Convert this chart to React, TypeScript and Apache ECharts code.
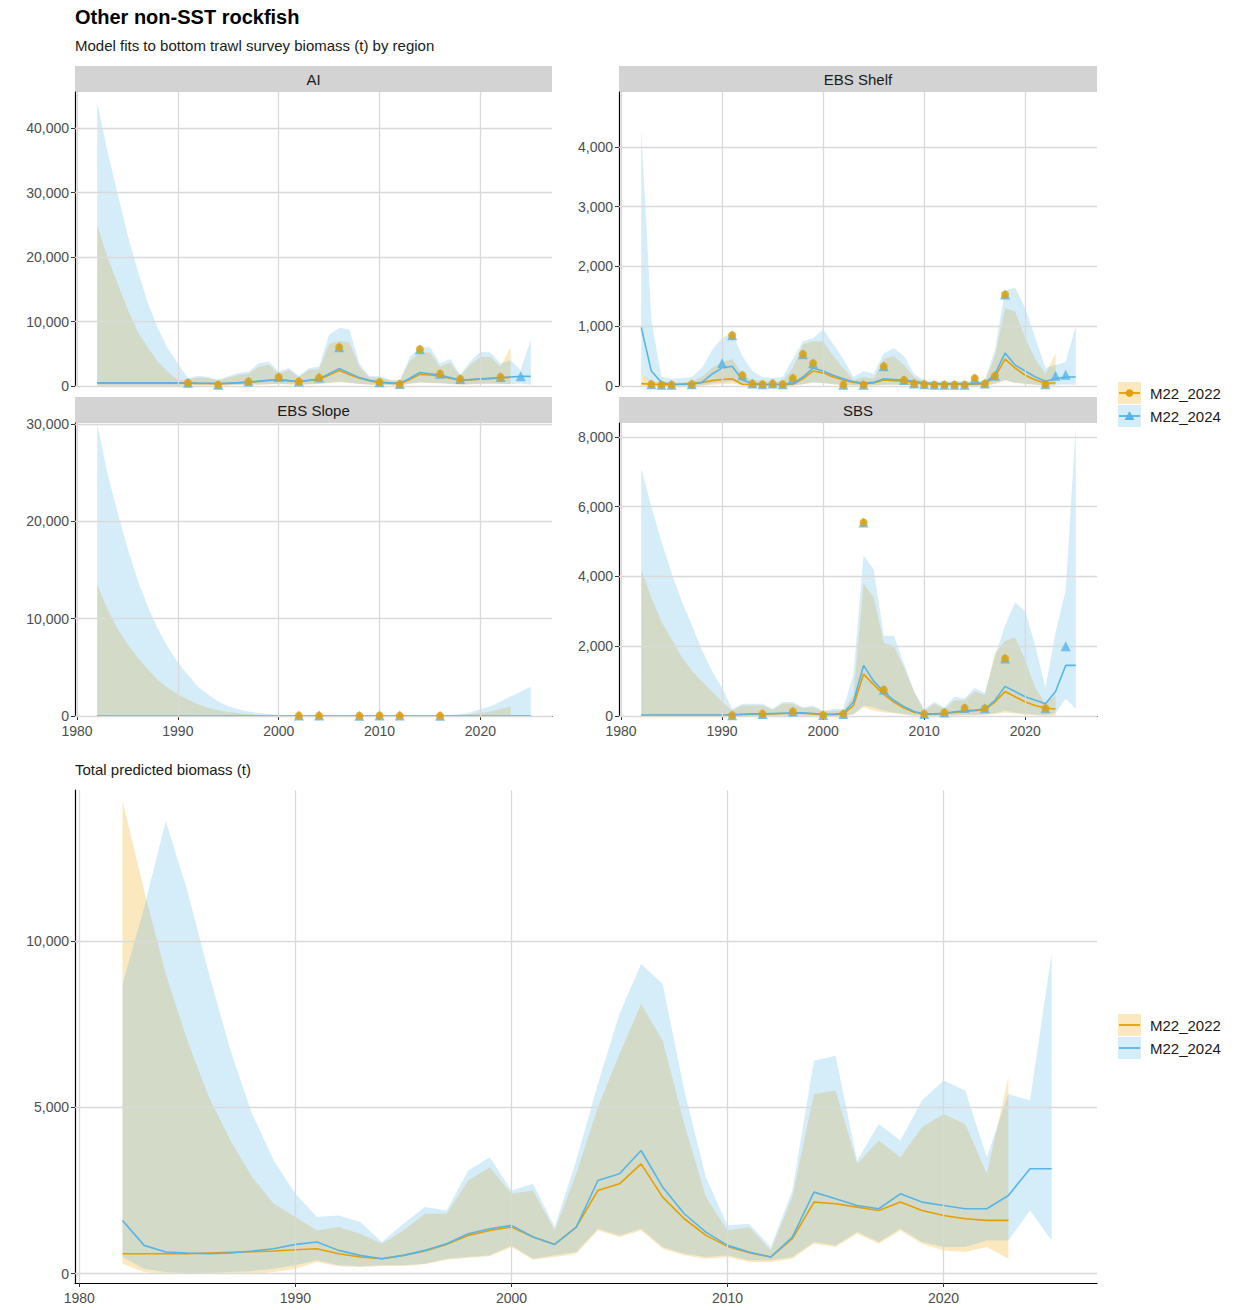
import React, { useEffect, useRef } from "react";
import * as echarts from "echarts";

const YEARS24 = [1982,1983,1984,1985,1986,1987,1988,1989,1990,1991,1992,1993,1994,1995,1996,1997,1998,1999,2000,2001,2002,2003,2004,2005,2006,2007,2008,2009,2010,2011,2012,2013,2014,2015,2016,2017,2018,2019,2020,2021,2022,2023,2024,2025];
const YEARS22 = YEARS24.slice(0, 42);

// AI
const aiPred24 = [500,500,500,500,500,500,500,500,500, 500,450,420,400,450,520,600,750,900,1000, 850,700,900,1100,1900,2700,2000,1300,900,600, 500,400,1200,2100,1900,1700,1300,900,1000,1100, 1200,1300,1400,1500,1500];
const aiPred22 = [450,450,450,450,450,450,450,450,450, 450,400,380,360,400,480,560,700,850,950, 800,650,850,1000,1700,2400,1800,1200,800,550, 450,350,1000,1800,1700,1500,1200,850,950,1050, 1150,1250,1350];
const aiUp24 = [44000,36500,30000,23500,18000,13000,9000,5800,3500,1200, 1600,1400,1000,1500,2000,2200,3500,3800,2200,2800, 1600,2800,3000,8000,9000,8800,3500,1500,1500,1000, 800,4500,6000,6000,3500,4200,1800,3800,5300,5200, 3500,4000,2500,7200];
const aiUp22 = [25000,20000,16000,12000,8500,6000,3800,2200,900,1000, 1300,1200,800,1300,1700,1900,3000,3300,1900,2500, 1400,2500,2600,6500,7000,6800,3000,1300,1300,900, 700,3900,5200,5200,3000,3600,1500,3300,4500,4500, 3000,6000];
const aiLo24 = [50,50,50,50,50,50,50,50,50, 100,100,100,100,150, 200,250,250,300,350, 300,250,300,350,500, 700,500,350,250,200, 150,100,400,600,500, 450,350,250,300,350, 400,350,300,400,200];
const aiLo22 = [20,20,20,20,20,20,20,20,20, 60,60,60,60,100, 150,200,200,250,300, 250,200,250,300,450, 600,450,300,200,150, 100,80,350,500,450, 400,300,200,250,300, 350,300,250];
const aiObs = [[1991,500],[1994,200],[1997,700],[2000,1400],[2002,700],[2004,1300],[2006,6000],[2010,600],[2012,300],[2014,5700],[2016,1900],[2018,1100],[2022,1400]];
const aiObs24Extra = [[2024,1500]];

// EBS Shelf
const shPred24 = [980,250,60,30,30,30,60,200,300,330, 100,40,30,30,30,40,150,300,250,180, 120,70,50,60,120,110,100,80,50,40, 40,40,40,40,50,200,550,350,250,150, 80,120,150,150];
const shPred22 = [40,30,20,20,30,40,60,90,110,120, 30,20,20,20,20,30,120,250,220,150, 100,60,40,50,100,90,80,60,40,30, 30,30,30,30,40,150,450,300,180,100, 50,50];
const shUp24 = [4300,1100,150,120,130,150,300,600,800,900, 500,250,150,130,150,450,750,800,950,700, 450,150,250,200,550,630,500,200,100,80, 80,80,80,80,100,600,1600,1650,1300,800, 300,350,400,1000];
const shUp22 = [200,80,50,50,60,80,150,300,400,450, 200,100,80,70,80,300,700,750,750,500, 300,100,150,120,450,500,350,150,70,50, 50,50,50,50,70,500,1300,1250,800,450, 200,550];
const shLo24 = [200,50,10,5,5,5,10,40,60,80, 20,10,5,5,5,10,30,60,50,30, 20,10,10,10,20,20,20,15,10,5, 5,5,5,5,10,40,100,60,40,20, 10,20,30,20];
const shLo22 = [0,0,0,0,0,0,5,20,30,40, 5,0,0,0,0,5,30,60,50,30, 20,10,5,10,20,20,20,10,5,0, 0,0,0,0,5,30,90,50,30,20, 10,5];
const shObs = [[1983,30],[1984,20],[1985,20],[1987,30],[1991,850],[1992,180],[1993,40],[1994,30],[1995,40],[1996,30],[1997,130],[1998,530],[1999,380],[2002,20],[2004,20],[2006,330],[2008,100],[2009,40],[2010,30],[2011,20],[2012,20],[2013,20],[2014,20],[2015,130],[2016,40],[2017,170],[2018,1530],[2022,30]];
const shObs24Extra = [[1990,380],[2023,170],[2024,190]];

// EBS Slope
const slPred24 = [20,20,20,20,20,20,20,20,20,20, 20,20,20,20,20,20,20,20,20,20, 20,20,20,20,20,20,20,20,20,20, 20,20,20,20,20,20,20,20,20,20, 20,20,20,20];
const slPred22 = [10,10,10,10,10,10,10,10,10,10, 10,10,10,10,10,10,10,10,10,10, 10,10,10,10,10,10,10,10,10,10, 10,10,10,10,10,10,10,10,10,10, 10,10];
const slUp24 = [30000,25000,21000,17300,14000,11300,9000,7100,5500,4200, 3000,2200,1500,1000,700,450,300,200,100,60, 40,30,20,20,20,20,20,20,20,20, 20,20,20,30,50,100,200,350,700,1000, 1500,2000,2500,3000];
const slUp22 = [13500,11000,9000,7400,6000,4800,3700,2900,2200,1700, 1200,850,600,420,300,180,100,60,40,20, 15,10,10,10,10,10,10,10,10,10, 10,10,10,15,30,60,100,180,300,450, 700,1000];
const slLo24 = [0,0,0,0,0,0,0,0,0,0, 0,0,0,0,0,0,0,0,0,0, 0,0,0,0,0,0,0,0,0,0, 0,0,0,0,0,0,0,0,0,0, 0,0,0,0];
const slLo22 = [0,0,0,0,0,0,0,0,0,0, 0,0,0,0,0,0,0,0,0,0, 0,0,0,0,0,0,0,0,0,0, 0,0,0,0,0,0,0,0,0,0, 0,0];
const slObs = [[2002,40],[2004,40],[2008,30],[2010,50],[2012,40],[2016,30]];

// SBS
const sbPred24 = [30,30,30,30,30,30,30,30,30,40, 50,60,60,70,80,90,90,70,50,50, 80,400,1450,1000,700,450,270,130,60,60, 80,120,150,170,200,450,850,700,550,450, 350,700,1450,1450];
const sbPred22 = [20,20,20,20,20,20,20,20,20,30, 40,50,50,60,70,80,80,60,40,40, 60,300,1200,900,620,400,230,110,50,50, 70,100,130,150,180,400,700,550,400,300, 220,200];
const sbUp24 = [7100,6000,5000,4100,3300,2600,1900,1300,800,200, 350,350,350,200,400,400,250,300,150,200, 200,1200,4600,4200,2300,2300,1500,700,200,400, 250,550,500,800,650,1700,2600,3250,3000,2000, 800,2400,3600,8300];
const sbUp22 = [4200,3400,2700,2200,1700,1300,1000,700,400,150, 300,300,300,180,350,350,220,250,120,150, 150,600,3800,3400,2100,2000,1400,700,150,350, 200,450,450,700,600,1800,2150,2250,1600,800, 350,600];
const sbLo24 = [0,0,0,0,0,0,0,0,0,5, 10,10,10,10,10,10,10,10,5,5, 10,50,300,250,150,100,50,20,5,5, 10,20,30,30,40,80,150,100,60,40, 20,80,500,200];
const sbLo22 = [0,0,0,0,0,0,0,0,0,0, 5,5,5,5,5,5,5,5,0,0, 5,40,250,150,100,80,40,10,0,0, 5,10,20,20,30,60,100,70,40,20, 10,10];
const sbObs = [[1991,20],[1994,60],[1997,130],[2000,30],[2002,60],[2004,5550],[2006,750],[2010,60],[2012,100],[2014,230],[2016,220],[2018,1650],[2022,220]];
const sbObs24Extra = [[2024,2000]];

// Total
const totPred24 = [1600,850,650,620,600,620,680,750,880,950, 700,550,450,550,700,900,1200,1350,1450,1100, 880,1400,2800,3000,3700,2600,1800,1250,850,650, 500,1100,2450,2250,2050,1950,2400,2150,2050,1950, 1950,2350,3150,3150];
const totPred22 = [600,600,600,600,620,640,660,680,720,750, 600,500,450,550,680,880,1150,1300,1400,1100, 880,1400,2500,2700,3300,2300,1650,1150,820,630, 500,1050,2150,2100,2000,1900,2150,1900,1750,1650, 1600,1600];
const totUp24 = [8700,11000,13600,11500,9000,6700,4800,3400,2400,1700, 1750,1550,950,1500,2000,1900,3100,3500,2500,2700, 1400,3400,5700,7800,9300,8700,5500,2900,1450,1500, 800,2500,6400,6550,3400,4500,4000,5200,5800,5500, 3500,5400,5200,9600];
const totUp22 = [14200,11500,9000,7000,5300,4000,2900,2100,1700,1300, 1400,1200,900,1300,1800,1800,2800,3200,2400,2500, 1300,3000,5000,6600,8100,7000,4500,2300,1300,1400, 700,2300,5400,5500,3300,4000,3500,4400,4800,4500, 3000,5900];
const totLo24 = [500,150,50,20,30,50,80,150,250,400, 250,220,250,250,300,450,500,550,850,450, 550,650,1350,1150,1350,800,600,500,550,400, 400,500,950,850,1250,950,1350,950,800,800, 1000,1000,1900,1000];
const totLo22 = [300,50,0,0,0,0,0,50,150,350, 220,200,230,230,280,420,480,520,800,420, 500,600,1300,1100,1300,750,550,450,500,350, 350,450,900,800,1200,900,1300,900,700,650, 800,450];

const X_TICKS = [1980, 1990, 2000, 2010, 2020];
const ORANGE = "#E69F00";
const BLUE = "#56B4E9";
const BAND22 = "rgba(247,190,70,0.35)";
const BAND24 = "rgba(86,180,233,0.25)";
const FONT = "Liberation Sans, Arial, sans-serif";

const PANELS = [
  { name: "AI", left: 75, top: 92, width: 477, height: 294, ymax: 45600, yticks: [0,10000,20000,30000,40000], xlab: false,
    p24: aiPred24, p22: aiPred22, u24: aiUp24, u22: aiUp22, l24: aiLo24, l22: aiLo22, obs: aiObs, extra: aiObs24Extra },
  { name: "EBS Shelf", left: 619, top: 92, width: 478, height: 294, ymax: 4920, yticks: [0,1000,2000,3000,4000], xlab: false,
    p24: shPred24, p22: shPred22, u24: shUp24, u22: shUp22, l24: shLo24, l22: shLo22, obs: shObs, extra: shObs24Extra },
  { name: "EBS Slope", left: 75, top: 423, width: 477, height: 293, ymax: 30100, yticks: [0,10000,20000,30000], xlab: true,
    p24: slPred24, p22: slPred22, u24: slUp24, u22: slUp22, l24: slLo24, l22: slLo22, obs: slObs, extra: [] },
  { name: "SBS", left: 619, top: 423, width: 478, height: 293, ymax: 8400, yticks: [0,2000,4000,6000,8000], xlab: true,
    p24: sbPred24, p22: sbPred22, u24: sbUp24, u22: sbUp22, l24: sbLo24, l22: sbLo22, obs: sbObs, extra: sbObs24Extra },
  { name: "", left: 75, top: 790, width: 1022, height: 493, ymin: -280, ymax: 14530, yticks: [0,5000,10000], xlab: true,
    p24: totPred24, p22: totPred22, u24: totUp24, u22: totUp22, l24: totLo24, l22: totLo22, obs: [], extra: [] },
];

function band(gi: number, years: number[], lo: number[], up: number[], color: string, z: number) {
  return {
    type: "custom", xAxisIndex: gi, yAxisIndex: gi, z, clip: true, silent: true,
    data: [[years[0], lo[0]]],
    renderItem: (params: any, api: any) => {
      const pts: number[][] = [];
      for (let i = 0; i < years.length; i++) pts.push(api.coord([years[i], up[i]]));
      for (let i = years.length - 1; i >= 0; i--) pts.push(api.coord([years[i], lo[i]]));
      return { type: "polygon", shape: { points: pts }, style: { fill: color } };
    },
  };
}

export default function App() {
  const ref = useRef<HTMLDivElement>(null);
  useEffect(() => {
    const chart = echarts.init(ref.current!, undefined, { renderer: "svg" });
    const grids: any[] = [], xAxes: any[] = [], yAxes: any[] = [], series: any[] = [];
    PANELS.forEach((p, gi) => {
      grids.push({ left: p.left, top: p.top, width: p.width, height: p.height, containLabel: false });
      xAxes.push({
        type: "value", gridIndex: gi, min: 1979.8, max: 2027.1,
        splitLine: { show: false },
        axisLine: { show: p.xlab, onZero: false, lineStyle: { color: "#000", width: 1.2 } },
        axisTick: { show: p.xlab, customValues: X_TICKS, length: 4, lineStyle: { color: "#333" } },
        axisLabel: { show: p.xlab, customValues: X_TICKS, color: "#4d4d4d", fontSize: 14, fontFamily: FONT, margin: 8, formatter: (v: number) => String(v) },
      });
      yAxes.push({
        type: "value", gridIndex: gi, min: (p as any).ymin ?? 0, max: p.ymax,
        splitLine: { show: false },
        axisLine: { show: true, onZero: false, lineStyle: { color: "#000", width: 1.2 } },
        axisTick: { show: true, customValues: p.yticks, length: 4, lineStyle: { color: "#333" } },
        axisLabel: { customValues: p.yticks, color: "#4d4d4d", fontSize: 14, fontFamily: FONT, margin: 6, formatter: (v: number) => v.toLocaleString("en-US") },
      });
      series.push({
        type: "scatter", xAxisIndex: gi, yAxisIndex: gi, z: 0, symbolSize: 0, silent: true, data: [[2000, 0]],
        markLine: {
          silent: true, symbol: ["none", "none"], label: { show: false }, animation: false,
          lineStyle: { color: "#d9d9d9", type: "solid", width: 1.3 },
          data: [...X_TICKS.map((x) => ({ xAxis: x })), ...p.yticks.map((y) => ({ yAxis: y }))],
        },
      });
      series.push(band(gi, YEARS22, p.l22, p.u22, BAND22, 1));
      series.push(band(gi, YEARS24, p.l24, p.u24, BAND24, 2));
      series.push({ type: "line", xAxisIndex: gi, yAxisIndex: gi, z: 3, symbol: "none", lineStyle: { color: ORANGE, width: 1.6 }, data: YEARS22.map((y, i) => [y, p.p22[i]]) });
      series.push({ type: "line", xAxisIndex: gi, yAxisIndex: gi, z: 4, symbol: "none", lineStyle: { color: BLUE, width: 1.6 }, data: YEARS24.map((y, i) => [y, p.p24[i]]) });
      if (p.obs.length || p.extra.length) {
        series.push({ type: "scatter", xAxisIndex: gi, yAxisIndex: gi, z: 5, symbol: "triangle", symbolSize: 10, itemStyle: { color: BLUE }, data: [...p.obs, ...p.extra] });
        series.push({ type: "scatter", xAxisIndex: gi, yAxisIndex: gi, z: 6, symbol: "circle", symbolSize: 8, itemStyle: { color: ORANGE }, data: p.obs });
      }
    });

    const strips: any[] = [];
    PANELS.slice(0, 4).forEach((p) => {
      strips.push({ type: "rect", shape: { x: p.left, y: p.top - 26, width: p.width, height: 26 }, style: { fill: "#d3d3d3" } });
      strips.push({ type: "text", x: p.left + p.width / 2, y: p.top - 13, style: { text: p.name, fill: "#1a1a1a", fontSize: 15, fontFamily: FONT, align: "center", verticalAlign: "middle" } });
    });
    const legend = (y: number, withPts: boolean) => {
      const items: any[] = [];
      [[BAND22, ORANGE, "M22_2022", "circle"], [BAND24, BLUE, "M22_2024", "triangle"]].forEach(([bg, c, label, sym], k) => {
        const cy = y + k * 23;
        items.push({ type: "rect", shape: { x: 1118, y: cy - 11, width: 23, height: 22 }, style: { fill: bg } });
        items.push({ type: "line", shape: { x1: 1119, y1: cy, x2: 1140, y2: cy }, style: { stroke: c, lineWidth: 1.8 } });
        if (withPts) {
          if (sym === "circle") items.push({ type: "circle", shape: { cx: 1129.5, cy, r: 3.8 }, style: { fill: c } });
          else items.push({ type: "polygon", shape: { points: [[1129.5, cy - 5], [1134.5, cy + 4], [1124.5, cy + 4]] }, style: { fill: c } });
        }
        items.push({ type: "text", x: 1150, y: cy, style: { text: label, fill: "#1a1a1a", fontSize: 15, fontFamily: FONT, verticalAlign: "middle" } });
      });
      return items;
    };

    chart.setOption({
      animation: false,
      backgroundColor: "#fff",
      title: [
        { text: "Other non-SST rockfish", left: 70, top: 2, textStyle: { fontSize: 20, fontWeight: "bold", color: "#000", fontFamily: FONT } },
        { text: "Model fits to bottom trawl survey biomass (t) by region", left: 70, top: 33, textStyle: { fontSize: 15, fontWeight: "normal", color: "#1a1a1a", fontFamily: FONT } },
        { text: "Total predicted biomass (t)", left: 70, top: 757, textStyle: { fontSize: 15, fontWeight: "normal", color: "#1a1a1a", fontFamily: FONT } },
      ],
      grid: grids, xAxis: xAxes, yAxis: yAxes, series,
      graphic: [...strips, ...legend(393, true), ...legend(1025, false)],
    });
    return () => chart.dispose();
  }, []);
  return <div ref={ref} style={{ position: "absolute", left: 0, top: 0, width: 1246, height: 1310 }} />;
}
